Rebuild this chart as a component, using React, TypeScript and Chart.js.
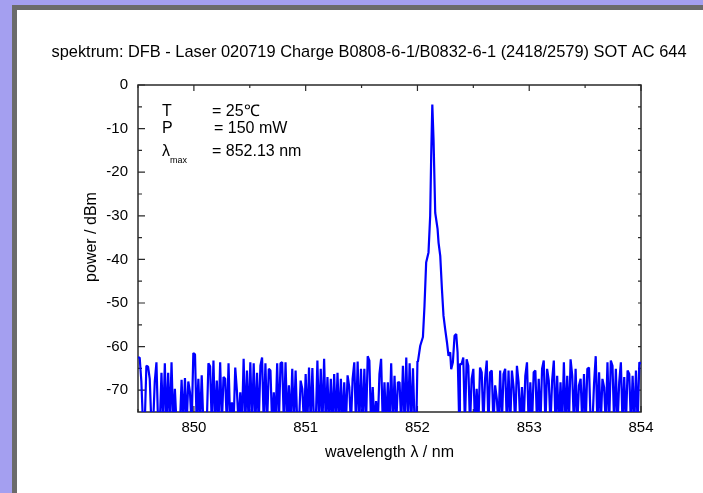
import React, { useEffect, useRef } from "react";
import { Chart, registerables } from "chart.js";

Chart.register(...registerables);

const FONT = "'Liberation Sans', Arial, Helvetica, sans-serif";

const TITLE = "spektrum: DFB - Laser 020719 Charge B0808-6-1/B0832-6-1 (2418/2579) SOT AC 644";
const X_TITLE = "wavelength \u03bb / nm";
const Y_TITLE = "power / dBm";

const X_MIN = 849.5;
const X_MAX = 854;
const Y_MIN = -75;
const Y_MAX = 0;

const xTicks = [850, 851, 852, 853, 854];
const xMinorTicks = [849.5, 850.5, 851.5, 852.5, 853.5];
const yTicks = [0, -10, -20, -30, -40, -50, -60, -70];
const yMinorTicks = [-5, -15, -25, -35, -45, -55, -65];

// sampled spectrum (uniform grid, 0.015 nm); F = noise floor sample just below the displayed range
const F = -78;
const LEFT_START = 849.5;
const RIGHT_START = 852.38;
const STEP = 0.015;

const leftNoise = [
  -62.5, -62.5, -68, F, F, -64.4, -64.6, -67.4, F, F,
  -68, -63.6, F, F, -66, F, -63.8, F, -66, F,
  -63.6, F, -69.7, F, F, F, -67.6, F, -67.2, F,
  -68, -70.5, F, -61.5, -61.8, F, -67.4, F, -66.6, F,
  F, F, -63.8, -64.5, F, -63.2, F, -67.8, F, -63.6,
  F, -67, -67.4, F, -63.8, F, -72.8, F, -64.8, -70.2,
  F, -70.5, F, -62.8, F, -65.5, F, -63.6, F, -63.8,
  F, -66, F, -64.4, -62.5, F, -63.8, F, -65.1, -65.5,
  F, -70.5, F, -63.8, F, -63.8, -63.6, F, -63.6, F,
  -68.9, F, -65.1, F, -65.5, F, F, -67.8, -69.7, F,
  -66.3, F, -64.8, F, -64.9, F, F, -63.2, F, -65.1,
  F, -62.8, F, -67, F, -67.4, F, -66.3, F, -66,
  F, -67.4, F, -68.2, F, -66.6, -69.3, F, -67.4, -63.6,
  F, -63.4, F, -65.1, F, -65.1, F, -62.2, -63.2, F,
  -69.3, F, -72.5, F, -66.3, -62.8, F, -68.2, F, -68.2,
  F, -63.8, F, -66.7, F, -68.2, -68.2, F, -64.4, F,
  -62.5, F, -63.8, F, -65, F, F,
];

const peakWavelength = [
  852.0, 852.004, 852.025, 852.049, 852.063, 852.078, 852.099, 852.114, 852.123,
  852.133, 852.144, 852.159, 852.18, 852.189, 852.204, 852.219, 852.233, 852.248,
  852.264, 852.278, 852.293, 852.302, 852.317, 852.332, 852.347, 852.359, 852.374,
];
const peakPower = [
  -63.3, -63.5, -59.8, -57.8, -50.7, -40.7, -38.4, -30, -16.3,
  -4.5, -12.5, -29.3, -33, -36.2, -39.2, -46.8, -52.9, -56,
  -59, -62.1, -61.3, -65.2, -63.6, -57.5, -57.1, -61.3, F,
];

const rightNoise = [
  -64.0, -64.0, -62.5, F, -62.9, -64.4, F, -67.4, -65.1, F,
  -69.7, F, -64.8, -65.9, F, -67.4, -63.2, F, -65.9, -65.5,
  F, -68.9, -72.0, F, -65.5, F, -66.3, -65.1, F, -65.5,
  F, -65.5, -69.3, F, -64.4, -68.2, F, -69.3, F, -66.7,
  -63.6, F, -68.2, F, -65.9, -65.5, F, -67.4, F, -65.1,
  -63.2, F, -65.1, -67.8, F, -67.8, -63.2, F, -66.7, F,
  -68.2, F, -63.6, F, -66.7, F, -62.9, -66.7, F, -65.1,
  F, -68.9, -67.4, F, -66.3, F, -65.1, -64.8, F, F,
  -68.5, -62.2, F, -65.9, F, -67.4, -69.3, F, -63.6, F,
  -63.2, -64.4, F, -65.1, F, -68.2, -63.6, F, -67.0, F,
  -65.5, -66.3, F, -66.7, F, -65.5, F, -63.6, -64.0,
];

const annoLabels = ["T", "P", "\u03bb"];
const annoValues = ["= 25\u2103", "= 150 mW", "= 852.13 nm"];
const annoSub = "max";

function buildPoints() {
  const pts: { x: number; y: number }[] = [];
  leftNoise.forEach((y, i) => pts.push({ x: +(LEFT_START + i * STEP).toFixed(4), y }));
  peakWavelength.forEach((x, i) => pts.push({ x, y: peakPower[i] }));
  rightNoise.forEach((y, i) => pts.push({ x: +(RIGHT_START + i * STEP).toFixed(4), y }));
  return pts;
}

const framePlugin = {
  id: "frame",
  beforeDatasetsDraw(chart: any) {
    const { ctx, chartArea: a, scales } = chart;
    const xs = scales.x;
    const ys = scales.y;
    ctx.save();
    ctx.strokeStyle = "#2a2a2a";
    ctx.lineWidth = 1.5;
    ctx.strokeRect(a.left, a.top, a.right - a.left, a.bottom - a.top);
    ctx.lineWidth = 1.2;
    ctx.beginPath();
    const xt = (v: number, len: number) => {
      const p = xs.getPixelForValue(v);
      ctx.moveTo(p, a.bottom);
      ctx.lineTo(p, a.bottom - len);
      ctx.moveTo(p, a.top);
      ctx.lineTo(p, a.top + len);
    };
    xTicks.forEach((v) => xt(v, 6));
    xMinorTicks.forEach((v) => xt(v, 3));
    const yt = (v: number, len: number) => {
      const p = ys.getPixelForValue(v);
      ctx.moveTo(a.left, p);
      ctx.lineTo(a.left + len, p);
      ctx.moveTo(a.right, p);
      ctx.lineTo(a.right - 3, p);
    };
    yTicks.forEach((v) => yt(v, 7));
    yMinorTicks.forEach((v) => yt(v, 4));
    ctx.stroke();
    ctx.restore();
  },
};

const textPlugin = {
  id: "texts",
  afterDraw(chart: any) {
    const { ctx, chartArea: a } = chart;
    ctx.save();
    ctx.fillStyle = "#000";
    ctx.textBaseline = "middle";
    // main title
    ctx.font = `16.4px ${FONT}`;
    ctx.textAlign = "center";
    ctx.fillText(TITLE, 369, 52);
    // x title
    ctx.font = `16px ${FONT}`;
    ctx.fillText(X_TITLE, (a.left + a.right) / 2, 453);
    // y title
    ctx.save();
    ctx.translate(92, 237);
    ctx.rotate(-Math.PI / 2);
    ctx.fillText(Y_TITLE, 0, 0);
    ctx.restore();
    // annotation
    ctx.textAlign = "left";
    ctx.font = `16px ${FONT}`;
    const rows = [a.top + 26.5, a.top + 44, a.top + 66.5];
    const valX = [a.left + 74, a.left + 76, a.left + 74];
    annoLabels.forEach((t, i) => {
      ctx.fillText(t, a.left + 24, rows[i]);
      ctx.fillText(annoValues[i], valX[i], rows[i]);
    });
    ctx.font = `9px ${FONT}`;
    ctx.fillText(annoSub, a.left + 32, rows[2] + 9.5);
    ctx.restore();
  },
};

export default function App() {
  const ref = useRef<HTMLCanvasElement | null>(null);

  useEffect(() => {
    if (!ref.current) return;
    const tickFont = { family: FONT, size: 15 };
    const chart = new Chart(ref.current, {
      type: "line",
      data: {
        datasets: [
          {
            data: buildPoints(),
            borderColor: "#0000ff",
            borderWidth: 2.2,
            pointRadius: 0,
            tension: 0,
            borderJoinStyle: "bevel",
            fill: false,
          },
        ],
      },
      options: {
        responsive: false,
        animation: false,
        events: [],
        layout: { padding: { left: 0, right: 62, top: 85, bottom: 0 } },
        plugins: {
          legend: { display: false },
          tooltip: { enabled: false },
          title: { display: false },
        },
        scales: {
          x: {
            type: "linear",
            min: X_MIN,
            max: X_MAX,
            afterBuildTicks: (s: any) => {
              s.ticks = xTicks.map((v) => ({ value: v }));
            },
            afterFit: (s: any) => {
              s.height = 81;
            },
            grid: { display: false, drawTicks: false },
            border: { display: false },
            ticks: {
              font: tickFont,
              color: "#000",
              padding: 7,
              maxRotation: 0,
              autoSkip: false,
              callback: (v: any) => String(v),
            },
          },
          y: {
            type: "linear",
            min: Y_MIN,
            max: Y_MAX,
            afterBuildTicks: (s: any) => {
              s.ticks = yTicks.map((v) => ({ value: v }));
            },
            afterFit: (s: any) => {
              s.width = 138;
            },
            grid: { display: false, drawTicks: false },
            border: { display: false },
            ticks: {
              font: tickFont,
              color: "#000",
              padding: 10,
              autoSkip: false,
              callback: (v: any) => String(v),
            },
          },
        },
      } as any,
      plugins: [framePlugin, textPlugin],
    });
    return () => chart.destroy();
  }, []);

  return (
    <div
      style={{
        position: "fixed",
        left: 0,
        top: 0,
        width: 703,
        height: 493,
        background: "#a49ff0",
        overflow: "hidden",
      }}
    >
      <div
        style={{
          position: "absolute",
          left: 12,
          top: 5,
          right: 0,
          bottom: 0,
          background: "#ffffff",
          borderLeft: "5px solid #6b6b6b",
          borderTop: "5px solid #6b6b6b",
        }}
      />
      <canvas
        ref={ref}
        width={703}
        height={493}
        style={{ position: "absolute", left: 0, top: 0 }}
      />
    </div>
  );
}
